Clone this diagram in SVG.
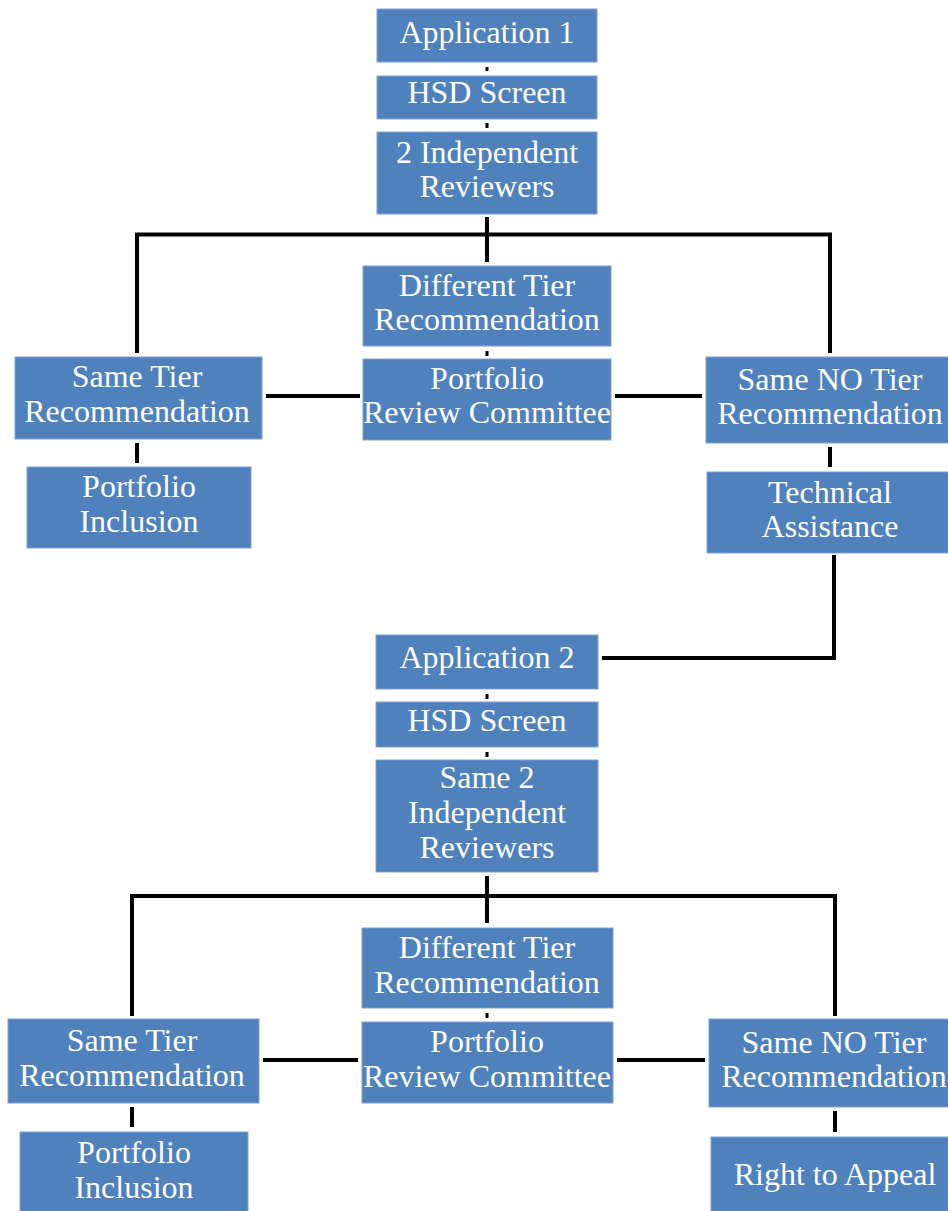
<svg xmlns="http://www.w3.org/2000/svg" width="948" height="1211" viewBox="0 0 948 1211">
<style>
.box{fill:#4F81BD;stroke:#7FA3D3;stroke-width:1}
.t{font-family:"Liberation Serif","Times New Roman",serif;font-size:32px;fill:#FFFFFF;text-anchor:middle}
.c{stroke:#000;stroke-width:4;fill:none}
.d{stroke:#000;stroke-width:3;fill:none}
</style>
<rect width="948" height="1211" fill="#FFFFFF"/>
<g id="connectors">
<path class="d" d="M487,67V71"/>
<path class="d" d="M487,123V128"/>
<path class="c" d="M487,217V262"/>
<path class="c" d="M137,353V234.5H830V353"/>
<path class="d" d="M487,351V356"/>
<path class="c" d="M266,396H360"/>
<path class="c" d="M615,396H702"/>
<path class="c" d="M137,443V463"/>
<path class="c" d="M830,447V467"/>
<path class="c" stroke-width="4.5" d="M834,555V658H602"/>
<path class="d" d="M487,694V699"/>
<path class="d" d="M487,752V757"/>
<path class="c" d="M487,876V923"/>
<path class="c" d="M132,1016V896H835V1016"/>
<path class="d" d="M487,1013V1018"/>
<path class="c" d="M263,1060H358"/>
<path class="c" d="M617,1060H705"/>
<path class="c" d="M132,1107V1127"/>
<path class="c" d="M835,1111V1132"/>
</g>
<g id="app1"><rect class="box" x="377" y="9" width="220" height="53"/><text class="t" x="487" y="43">Application 1</text></g>
<g id="hsd1"><rect class="box" x="377" y="76" width="220" height="43"/><text class="t" x="487" y="103">HSD Screen</text></g>
<g id="rev1"><rect class="box" x="377" y="132" width="220" height="82"/><text class="t" x="487" y="163">2 Independent</text><text class="t" x="487" y="197">Reviewers</text></g>
<g id="diff1"><rect class="box" x="363" y="266" width="248" height="80"/><text class="t" x="487" y="296">Different Tier</text><text class="t" x="487" y="330">Recommendation</text></g>
<g id="prc1"><rect class="box" x="363" y="359" width="248" height="81"/><text class="t" x="487" y="389">Portfolio</text><text class="t" x="487" y="423">Review Committee</text></g>
<g id="same1"><rect class="box" x="15" y="357" width="247" height="82"/><text class="t" x="137" y="387">Same Tier</text><text class="t" x="137" y="422">Recommendation</text></g>
<g id="incl1"><rect class="box" x="27" y="467" width="224" height="81"/><text class="t" x="139" y="497">Portfolio</text><text class="t" x="139" y="532">Inclusion</text></g>
<g id="no1"><rect class="box" x="706" y="357" width="250" height="86"/><text class="t" x="830" y="390">Same NO Tier</text><text class="t" x="830" y="424">Recommendation</text></g>
<g id="ta1"><rect class="box" x="707" y="472" width="250" height="81"/><text class="t" x="830" y="503">Technical</text><text class="t" x="830" y="537">Assistance</text></g>
<g id="app2"><rect class="box" x="376" y="635" width="222" height="54"/><text class="t" x="487" y="668">Application 2</text></g>
<g id="hsd2"><rect class="box" x="376" y="702" width="222" height="45"/><text class="t" x="487" y="731">HSD Screen</text></g>
<g id="rev2"><rect class="box" x="376" y="760" width="222" height="112"/><text class="t" x="487" y="788">Same 2</text><text class="t" x="487" y="823">Independent</text><text class="t" x="487" y="858">Reviewers</text></g>
<g id="diff2"><rect class="box" x="362" y="928" width="251" height="80"/><text class="t" x="487" y="958">Different Tier</text><text class="t" x="487" y="993">Recommendation</text></g>
<g id="prc2"><rect class="box" x="362" y="1022" width="251" height="81"/><text class="t" x="487" y="1052">Portfolio</text><text class="t" x="487" y="1087">Review Committee</text></g>
<g id="same2"><rect class="box" x="8" y="1019" width="251" height="84"/><text class="t" x="132" y="1051">Same Tier</text><text class="t" x="132" y="1086">Recommendation</text></g>
<g id="incl2"><rect class="box" x="20" y="1132" width="228" height="90"/><text class="t" x="134" y="1163">Portfolio</text><text class="t" x="134" y="1198">Inclusion</text></g>
<g id="no2"><rect class="box" x="709" y="1019" width="250" height="88"/><text class="t" x="834" y="1053">Same NO Tier</text><text class="t" x="834" y="1087">Recommendation</text></g>
<g id="appeal"><rect class="box" x="711" y="1137" width="250" height="90"/><text class="t" x="835" y="1185">Right to Appeal</text></g>
</svg>
